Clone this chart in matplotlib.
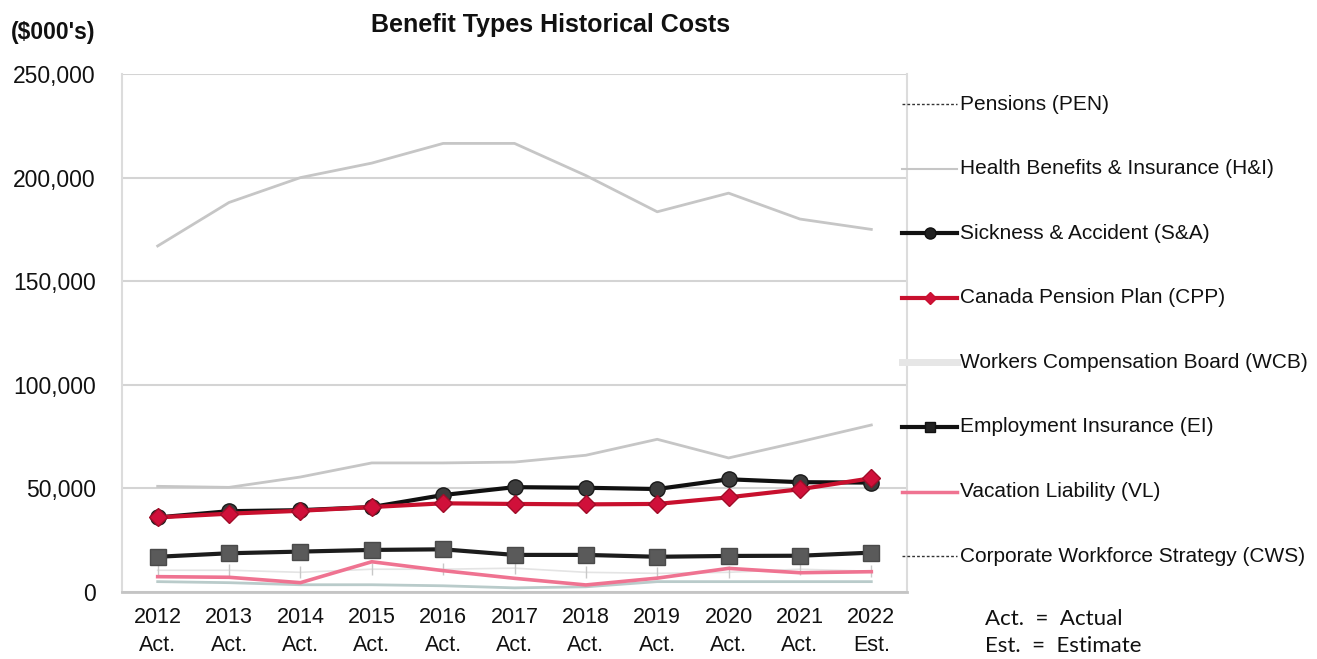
import matplotlib
matplotlib.use("Agg")
import matplotlib.pyplot as plt
from matplotlib.lines import Line2D
import numpy as np

# ---- data ($000's) ----
years = ["2012", "2013", "2014", "2015", "2016", "2017", "2018", "2019", "2020", "2021", "2022"]
status = ["Act.", "Act.", "Act.", "Act.", "Act.", "Act.", "Act.", "Act.", "Act.", "Act.", "Est."]

health_ins = [167000, 188000, 200000, 207000, 216500, 216500, 201000, 183500, 192500, 180000, 175000]
pensions = [51000, 50500, 55500, 62300, 62300, 62700, 66000, 73700, 64700, 72500, 80600]
sickness = [36000, 39000, 39500, 41000, 46800, 50600, 50300, 49700, 54400, 53000, 52800]
cpp = [36000, 37800, 39200, 41000, 42800, 42500, 42300, 42500, 45700, 49600, 54900]
employment = [17000, 18700, 19500, 20300, 20600, 17900, 17900, 17000, 17400, 17500, 19000]
vacation = [7400, 7100, 4500, 14600, 10300, 6600, 3400, 6700, 11400, 9300, 9800]
wcb = [5000, 4500, 3500, 3500, 3000, 2000, 2500, 5000, 5000, 5000, 5000]
cws = [10500, 10500, 9500, 11000, 11000, 11500, 9500, 9000, 9500, 11000, 10000]

legend_labels = ["Pensions (PEN)", "Health Benefits & Insurance (H&I)", "Sickness & Accident (S&A)",
                 "Canada Pension Plan (CPP)", "Workers Compensation Board (WCB)",
                 "Employment Insurance (EI)", "Vacation Liability (VL)",
                 "Corporate Workforce Strategy (CWS)"]

FONT = ["Liberation Sans", "DejaVu Sans"]
plt.rcParams["font.family"] = FONT

W, H = 1317, 659
fig = plt.figure(figsize=(W / 100, H / 100), dpi=100)
ax = fig.add_axes([122 / W, 1 - 592 / H, (907 - 122) / W, (592 - 74) / H])

x = np.arange(len(years))

# faint series
ax.plot(x, cws, color="#e4e4e4", lw=1.2, marker="|", ms=9, mec="#c8c8c8", zorder=2)
ax.plot(x, wcb, color="#b9cbca", lw=2.0, zorder=2)
ax.plot(x, health_ins, color="#c6c6c6", lw=2.0, zorder=2)
ax.plot(x, pensions, color="#c6c6c6", lw=2.0, zorder=2)
ax.plot(x, vacation, color="#ef7391", lw=2.6, zorder=3)
ax.plot(x, employment, color="#1c1c1c", lw=3.0, marker="s", ms=12,
        mfc="#5a5a5a", mec="#4a4a4a", zorder=4)
ax.plot(x, sickness, color="#111111", lw=3.0, marker="o", ms=11,
        mfc="#3c3c3c", mec="#1a1a1a", zorder=5)
ax.plot(x, cpp, color="#c8102e", lw=3.0, marker="D", ms=9,
        mfc="#d0103a", mec="#a00c28", zorder=6)

ax.set_xlim(-0.5, len(years) - 0.5)
ax.set_ylim(0, 250000)
ax.set_yticks(np.arange(0, 250001, 50000))
ax.yaxis.set_major_formatter(matplotlib.ticker.FuncFormatter(lambda v, p: f"{int(v):,}"))
ax.grid(axis="y", color="#d4d4d4", lw=1.5)
ax.set_axisbelow(True)
ax.set_xticks(x)
ax.set_xticklabels([f"{a}\n{b}" for a, b in zip(years, status)], linespacing=1.45)
ax.tick_params(axis="x", length=0, labelsize=15.5, colors="#111111", pad=11)
ax.tick_params(axis="y", length=0, labelsize=16.5, colors="#111111", pad=19)
for side in ["left", "right"]:
    ax.spines[side].set_color("#dcdcdc")
    ax.spines[side].set_linewidth(1.5)
ax.spines["top"].set_visible(False)
ax.spines["bottom"].set_color("#c4c4c4")
ax.spines["bottom"].set_linewidth(2)

# titles
fig.text(551 / W, 1 - 25 / H, "Benefit Types Historical Costs", ha="center", va="center",
         fontsize=18, fontweight="bold", color="#111111")
fig.text(53 / W, 1 - 32 / H, "($000's)", ha="center", va="center",
         fontsize=16.5, fontweight="bold", color="#111111")

# legend (manual, to match reference layout)
handles = [
    dict(color="#333333", lw=1.0, ls=(0, (2, 1.5)), marker=None),
    dict(color="#c6c6c6", lw=1.5, ls="-", marker=None),
    dict(color="#111111", lw=3.0, ls="-", marker="o", ms=8, mfc="#222222"),
    dict(color="#c8102e", lw=3.0, ls="-", marker="D", ms=6, mfc="#d0103a"),
    dict(color="#e6e6e6", lw=5.0, ls="-", marker=None),
    dict(color="#111111", lw=3.0, ls="-", marker="s", ms=7, mfc="#222222"),
    dict(color="#ef7391", lw=2.5, ls="-", marker=None),
    dict(color="#333333", lw=1.0, ls=(0, (2, 1.5)), marker=None),
]
y0, dy = 104, 64.6
for i, (lab, h) in enumerate(zip(legend_labels, handles)):
    yy = 1 - (y0 + i * dy) / H
    mk = h.pop("marker")
    ln = Line2D([902 / W, 957 / W], [yy, yy], transform=fig.transFigure, **h)
    fig.add_artist(ln)
    if mk:
        fig.add_artist(Line2D([929.5 / W], [yy], transform=fig.transFigure, marker=mk,
                              ms=h.get("ms", 7), mfc=h.get("mfc"), mec=h["color"], ls="none"))
    fig.text(960 / W, yy, lab, ha="left", va="center", fontsize=15, color="#111111")

fig.text(985 / W, 1 - 619 / H, "Act.  =  Actual", ha="left", va="center", fontsize=16,
         family=["Lato", "DejaVu Sans"], color="#111111")
fig.text(985 / W, 1 - 646 / H, "Est.  =  Estimate", ha="left", va="center", fontsize=16,
         family=["Lato", "DejaVu Sans"], color="#111111")

fig.savefig("out.png", dpi=100)
